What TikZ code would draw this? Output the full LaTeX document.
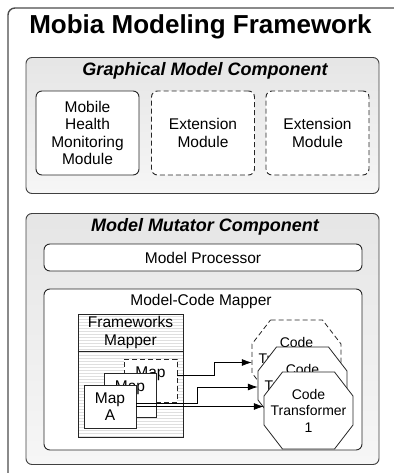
\documentclass[tikz,border=0pt]{standalone}
\usepackage{fontspec}
\setmainfont{Liberation Sans}
\usetikzlibrary{arrows.meta,patterns}
\tikzset{
  dsh/.style={dash pattern=on 5pt off 3pt},
  comp/.style={draw=black!75,line width=0.9pt,rounded corners=6pt,top color=gray!20,bottom color=gray!7,minimum width=353pt,inner sep=0pt},
  comptitle/.style={font=\fontsize{18}{21}\selectfont\bfseries\itshape},
  modbox/.style={draw=black!85,line width=0.9pt,rounded corners=6pt,fill=white,minimum width=103pt,minimum height=84pt,align=center,inner sep=0pt,font=\fontsize{15.5}{17.5}\selectfont},
  extbox/.style={modbox,dsh},
  mapbox/.style={draw=black!85,line width=0.8pt,fill=white,minimum width=52pt,minimum height=43pt,align=center,inner sep=0pt,font=\fontsize{15.5}{17}\selectfont},
  transf/.pic={
    \draw[draw=black!85,fill=white,line width=0.8pt,pic actions] (-26,-38.5)--(26,-38.5)--(44.5,-14.5)--(44.5,14.5)--(26,38.5)--(-26,38.5)--(-44.5,14.5)--(-44.5,-14.5)--cycle;
    \node[minimum width=89pt,minimum height=77pt,inner sep=0pt,align=center,font=\fontsize{14}{16.5}\selectfont] (-box) {#1};
  },
  arr/.style={-{Latex[length=10pt,width=7pt]},line width=0.8pt}
}
\begin{document}
\begin{tikzpicture}[x=1pt,y=-1pt]
  \useasboundingbox (0,0) rectangle (393,473);
  % outer frame
  \draw[black!70,line width=1.4pt,rounded corners=7pt] (8,490)--(8,8)--(410,8);
  \node[font=\fontsize{26}{30}\selectfont\bfseries] (title) at (200.5,27) {Mobia Modeling Framework};
  % graphical model component
  \node[comp,minimum height=136pt] (gmc) at (202.5,125.5) {};
  \node[comptitle] (gmctitle) at (205,71) {Graphical Model Component};
  \node[modbox] (mhm) at (87.5,133) {Mobile\\Health\\Monitoring\\Module};
  \node[extbox] (ext1) at (203,133) {Extension\\Module};
  \node[extbox] (ext2) at (317.5,133) {Extension\\Module};
  % model mutator component
  \node[comp,minimum height=251pt] (mmc) at (202.5,339) {};
  \node[comptitle] (mmctitle) at (205,227) {Model Mutator Component};
  \node[modbox,minimum width=318pt,minimum height=27pt] (proc) at (203,257.5) {Model Processor};
  \node[modbox,minimum width=318pt,minimum height=161pt] (mcm) at (203,369.5) {};
  \node[font=\fontsize{15.5}{17.5}\selectfont] (mcmtitle) at (201,301) {Model-Code Mapper};
  % frameworks mapper
  \node[draw=black!85,line width=0.8pt,preaction={fill=white},pattern=horizontal lines,pattern color=gray!25,minimum width=105pt,minimum height=123pt] (fmap) at (130.5,375.5) {};
  \node[minimum width=104pt,minimum height=37pt,inner sep=0pt,align=center,anchor=north,font=\fontsize{15.5}{18}\selectfont] (fmaptitle) at ([yshift=-0.5pt]fmap.north) {Frameworks\\Mapper};
  \draw[black!85,line width=0.8pt] (fmaptitle.south -| fmap.west)--(fmaptitle.south -| fmap.east);
  \node[mapbox,dsh,minimum width=53pt] (mapX) at (150.5,380.5) {Map\\X};
  \node[mapbox,minimum height=44pt] (mapB) at (130,395) {Map\\\phantom{B}};
  \node[mapbox] (mapA) at (110,406.5) {Map\\A};
  % code transformers
  \pic[dsh] (ct3) at (296.5,358.5) {transf={Code\\Transformer\\\phantom{N}}};
  \pic (ct2) at (302.5,385.5) {transf={Code\\Transformer\\\phantom{2}}};
  \pic (ct1) at (308.5,410.5) {transf={Code\\Transformer\\1}};
  \draw[arr] ([yshift=5pt]mapX.east)--++(37,0)|-([yshift=-4pt]ct3-box.west);
  \draw[arr] ([yshift=3.5pt]mapA.east)--++(61,0)|-([yshift=-1.5pt]ct2-box.west);
  \draw[arr] (mapA.east)--(mapA.east -| ct1-box.west);
\end{tikzpicture}
\end{document}
